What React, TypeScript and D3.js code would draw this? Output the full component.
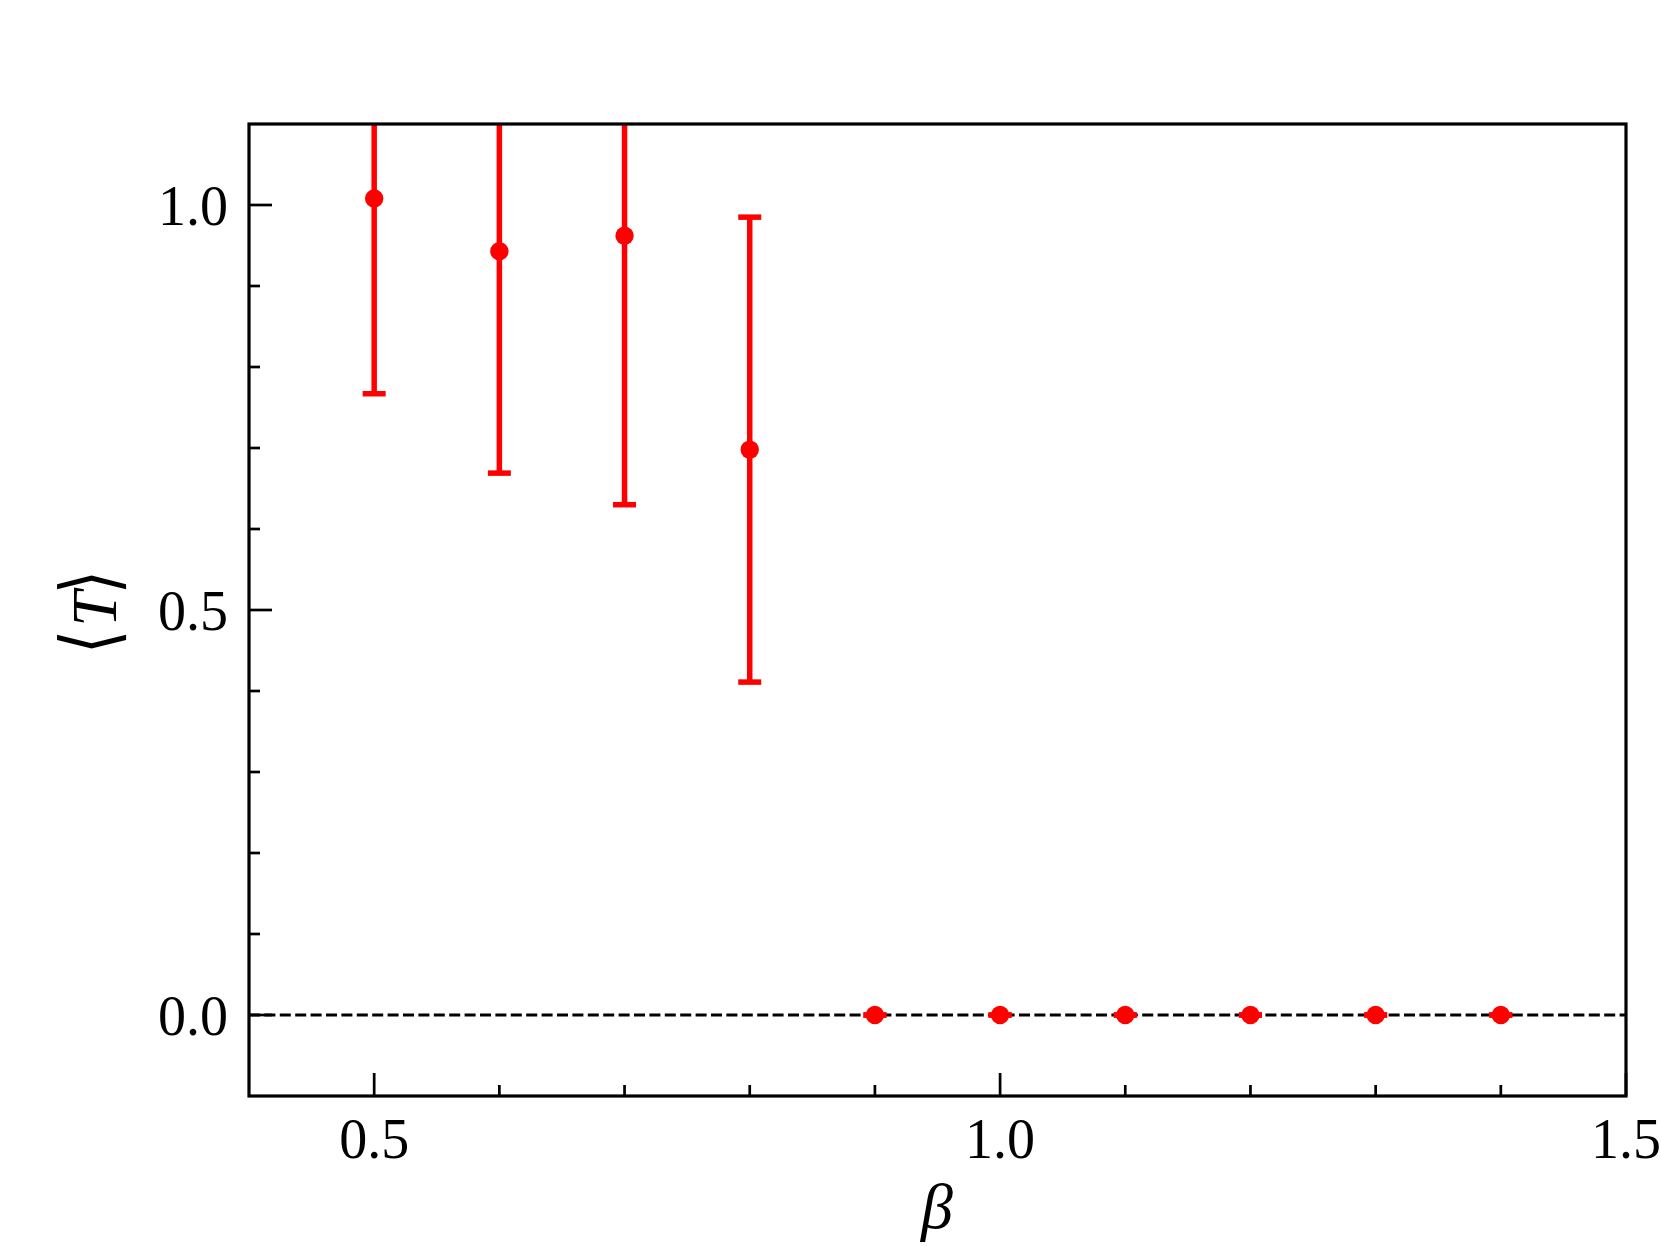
import React, { useRef, useEffect } from "react";
import * as d3 from "d3";

const betaValues = [0.5, 0.6, 0.7, 0.8, 0.9, 1.0, 1.1, 1.2, 1.3, 1.4];
const meanT = [1.008, 0.943, 0.962, 0.698, 0, 0, 0, 0, 0, 0];
const errT = [0.241, 0.274, 0.332, 0.287, 0, 0, 0, 0, 0, 0];

const xMajorTicks = [0.5, 1.0, 1.5];
const xMinorTicks = [0.6, 0.7, 0.8, 0.9, 1.1, 1.2, 1.3, 1.4];
const yMajorTicks = [0.0, 0.5, 1.0];
const yMinorTicks = [0.1, 0.2, 0.3, 0.4, 0.6, 0.7, 0.8, 0.9];

const width = 1661;
const height = 1246;
const margin = { top: 124, right: 35, bottom: 150, left: 249 };
const serif = "'Liberation Serif', 'Times New Roman', serif";

const App = () => {
  const svgRef = useRef(null);

  useEffect(() => {
    const svg = d3.select(svgRef.current);
    svg.selectAll("*").remove();

    const x = d3.scaleLinear().domain([0.4, 1.5]).range([margin.left, width - margin.right]);
    const y = d3.scaleLinear().domain([-0.1, 1.1]).range([height - margin.bottom, margin.top]);
    const [x0, x1] = x.range();
    const [y0, y1] = y.range();

    svg.append("defs")
      .append("clipPath")
      .attr("id", "plot-clip")
      .append("rect")
      .attr("x", x0)
      .attr("y", y1)
      .attr("width", x1 - x0)
      .attr("height", y0 - y1);

    // zero reference line
    svg.append("line")
      .attr("x1", x0)
      .attr("x2", x1)
      .attr("y1", y(0))
      .attr("y2", y(0))
      .attr("stroke", "#000")
      .attr("stroke-width", 3.2)
      .attr("stroke-dasharray", "11 4.4");

    const data = betaValues.map((b, i) => ({ b, v: meanT[i], e: errT[i] }));
    const plot = svg.append("g").attr("clip-path", "url(#plot-clip)");

    plot.selectAll(".err")
      .data(data)
      .enter()
      .append("line")
      .attr("x1", d => x(d.b))
      .attr("x2", d => x(d.b))
      .attr("y1", d => y(d.v - d.e))
      .attr("y2", d => y(d.v + d.e))
      .attr("stroke", "#ff0000")
      .attr("stroke-width", 5.5);

    const caps = data.flatMap(d => [d.v - d.e, d.v + d.e].map(c => ({ b: d.b, c })));
    plot.selectAll(".cap")
      .data(caps)
      .enter()
      .append("line")
      .attr("x1", d => x(d.b) - 11.5)
      .attr("x2", d => x(d.b) + 11.5)
      .attr("y1", d => y(d.c))
      .attr("y2", d => y(d.c))
      .attr("stroke", "#ff0000")
      .attr("stroke-width", 5.5);

    plot.selectAll(".pt")
      .data(data)
      .enter()
      .append("circle")
      .attr("cx", d => x(d.b))
      .attr("cy", d => y(d.v))
      .attr("r", 9.2)
      .attr("fill", "#ff0000");

    // ticks (inward)
    const ticks = svg.append("g").attr("stroke", "#000").attr("stroke-width", 2.7);
    xMajorTicks.concat(xMinorTicks).forEach(t => {
      const len = xMajorTicks.includes(t) ? 23 : 11;
      ticks.append("line").attr("x1", x(t)).attr("x2", x(t)).attr("y1", y0).attr("y2", y0 - len);
    });
    yMajorTicks.concat(yMinorTicks).forEach(t => {
      const len = yMajorTicks.includes(t) ? 23 : 11;
      ticks.append("line").attr("x1", x0).attr("x2", x0 + len).attr("y1", y(t)).attr("y2", y(t));
    });

    // frame
    svg.append("rect")
      .attr("x", x0)
      .attr("y", y1)
      .attr("width", x1 - x0)
      .attr("height", y0 - y1)
      .attr("fill", "none")
      .attr("stroke", "#000")
      .attr("stroke-width", 3.2);

    // tick labels
    svg.selectAll(".xl")
      .data(xMajorTicks)
      .enter()
      .append("text")
      .attr("x", d => x(d))
      .attr("y", y0 + 62)
      .attr("text-anchor", "middle")
      .attr("font-family", serif)
      .attr("font-size", 56)
      .text(d => d3.format(".1f")(d));

    svg.selectAll(".yl")
      .data(yMajorTicks)
      .enter()
      .append("text")
      .attr("x", x0 - 21)
      .attr("y", d => y(d))
      .attr("dy", "0.35em")
      .attr("text-anchor", "end")
      .attr("font-family", serif)
      .attr("font-size", 56)
      .text(d => d3.format(".1f")(d));

    // axis titles
    svg.append("text")
      .attr("x", 937)
      .attr("y", 1228)
      .attr("text-anchor", "middle")
      .attr("font-family", serif)
      .attr("font-style", "italic")
      .attr("font-size", 64)
      .text("β");

    // <T>, brackets stretched taller like mathtext delimiters
    const yTitle = svg.append("g").attr("transform", "translate(116, 612) rotate(-90)");
    yTitle.append("text")
      .attr("transform", "scale(1, 1.25)")
      .attr("x", -42)
      .attr("text-anchor", "start")
      .attr("font-family", "'DejaVu Serif', serif")
      .attr("font-size", 62)
      .text("⟨");
    yTitle.append("text")
      .attr("x", 3)
      .attr("text-anchor", "middle")
      .attr("font-family", serif)
      .attr("font-style", "italic")
      .attr("font-size", 64)
      .text("T");
    yTitle.append("text")
      .attr("transform", "scale(1, 1.25)")
      .attr("x", 42)
      .attr("text-anchor", "end")
      .attr("font-family", "'DejaVu Serif', serif")
      .attr("font-size", 62)
      .text("⟩");
  }, []);

  return (
    <svg
      ref={svgRef}
      width={width}
      height={height}
      style={{ position: "absolute", left: 0, top: 0, background: "#fff" }}
    />
  );
};

export default App;
